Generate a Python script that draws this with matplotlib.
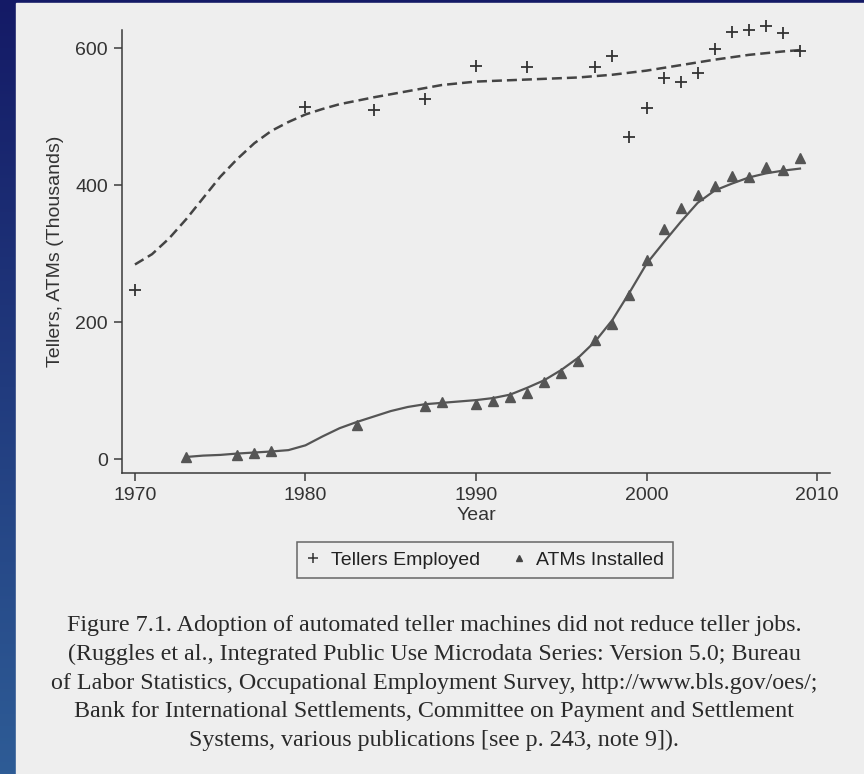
import matplotlib
matplotlib.use("Agg")
import matplotlib.pyplot as plt
import numpy as np
from matplotlib.colors import LinearSegmentedColormap
from matplotlib.lines import Line2D
from matplotlib.patches import Rectangle

# tellers employed (thousands), scatter
teller_years = [1970, 1980, 1984, 1987, 1990, 1993, 1997, 1998, 1999, 2000,
                2001, 2002, 2003, 2004, 2005, 2006, 2007, 2008, 2009]
tellers = [247, 514, 509, 526, 574, 573, 573, 588, 470, 513,
           556, 550, 564, 598, 624, 627, 632, 622, 596]

# smoothed tellers curve (dashed)
teller_fit_years = [1970, 1971, 1972, 1973, 1974, 1975, 1976, 1977, 1978, 1979,
                    1980, 1981, 1982, 1984, 1986, 1988, 1990, 1992, 1994, 1996,
                    1998, 2000, 2002, 2004, 2006, 2008, 2009]
teller_fit = [284, 299, 322, 350, 381, 412, 438, 461, 479, 492,
              503, 511, 518, 528, 537, 546, 551, 553, 555, 557,
              561, 567, 575, 583, 590, 595, 597]

# ATMs installed (thousands), scatter
atm_years = [1973, 1976, 1977, 1978, 1983, 1987, 1988, 1990, 1991, 1992,
             1993, 1994, 1995, 1996, 1997, 1998, 1999, 2000, 2001, 2002,
             2003, 2004, 2005, 2006, 2007, 2008, 2009]
atms = [2.5, 6, 9, 11, 50, 77, 83, 81, 85, 90,
        97, 112, 126, 143, 174, 197, 239, 290, 336, 366,
        386, 399, 413, 411, 426, 422, 440]

# smoothed ATM curve (solid)
atm_fit_years = list(range(1973, 2010))
atm_fit = [3, 5, 6, 8, 9.5, 11, 13, 20, 33, 45,
           54, 62, 70, 76, 80, 82, 84, 86, 89, 94,
           104, 115, 130, 148, 172, 203, 243, 285, 316, 346,
           374, 392, 402, 411, 417, 421, 424]

x_ticks = [1970, 1980, 1990, 2000, 2010]
y_ticks = [0, 200, 400, 600]

caption = ("Figure 7.1. Adoption of automated teller machines did not reduce teller jobs.\n"
           "(Ruggles et al., Integrated Public Use Microdata Series: Version 5.0; Bureau\n"
           "of Labor Statistics, Occupational Employment Survey, http://www.bls.gov/oes/;\n"
           "Bank for International Settlements, Committee on Payment and Settlement\n"
           "Systems, various publications [see p. 243, note 9]).")

plt.rcParams['font.family'] = ['Liberation Sans', 'DejaVu Sans']

W, H = 864, 774
fig = plt.figure(figsize=(W / 100, H / 100), dpi=100)

# blue frame + page
bg = fig.add_axes([0, 0, 1, 1], zorder=-10)
frame = LinearSegmentedColormap.from_list('frame', ['#141a66', '#2e5c96'])
bg.imshow(np.linspace(0, 1, 256).reshape(-1, 1), aspect='auto', cmap=frame,
          extent=[0, 1, 0, 1], origin='upper')
bg.add_patch(Rectangle((16 / W, 0), 1, (H - 3) / H, color='#eeeeee'))
bg.set_xlim(0, 1)
bg.set_ylim(0, 1)
bg.axis('off')

ax = fig.add_axes([122 / W, (H - 473) / H, (830 - 122) / W, (473 - 30) / H])
ax.set_facecolor('none')

ink = '#3a3a3a'
ax.plot(teller_fit_years, teller_fit, color='#444444', linewidth=1.8, dashes=(4, 2))
ax.plot(teller_years, tellers, linestyle='none', marker='+', markersize=8,
        markeredgewidth=1.3, color='#333333', clip_on=False)
ax.plot(atm_fit_years, atm_fit, color='#555555', linewidth=1.6)
ax.plot(atm_years, atms, linestyle='none', marker='^', markersize=6.5,
        color='#555555', clip_on=False)

ax.set_xlim(1969.24, 2010.76)
ax.set_ylim(-20.4, 626.3)
ax.set_xticks(x_ticks)
ax.set_yticks(y_ticks)
for s in ['top', 'right']:
    ax.spines[s].set_visible(False)
for s in ['left', 'bottom']:
    ax.spines[s].set_color(ink)
    ax.spines[s].set_linewidth(1.1)
ax.tick_params(direction='out', length=6, width=1.1, color=ink,
               labelsize=14, labelcolor='#333333', pad=4)
ax.set_xlabel('Year', fontsize=14, color='#333333', labelpad=2)
ax.set_ylabel('Tellers, ATMs (Thousands)', fontsize=14, color='#333333', labelpad=8)

handles = [Line2D([], [], linestyle='none', marker='+', markersize=7,
                  markeredgewidth=1.1, color='#333333'),
           Line2D([], [], linestyle='none', marker='^', markersize=5,
                  color='#444444')]
leg = fig.legend(handles, ['Tellers Employed', 'ATMs Installed'], ncol=2,
                 loc='center', bbox_to_anchor=(485 / W, (H - 560) / H),
                 fontsize=14, frameon=True, fancybox=False, handlelength=0.8,
                 handletextpad=0.5, columnspacing=1.6, borderpad=0.45)
leg.get_frame().set_edgecolor('#444444')
leg.get_frame().set_facecolor('none')
leg.get_frame().set_linewidth(1.1)
for t in leg.get_texts():
    t.set_color('#222222')

fig.text(434 / W, (H - 683) / H, caption, ha='center', va='center',
         multialignment='center', fontsize=17.3, family='Liberation Serif',
         color='#2a2a2a', linespacing=1.48)

fig.savefig('out.png', dpi=100)
